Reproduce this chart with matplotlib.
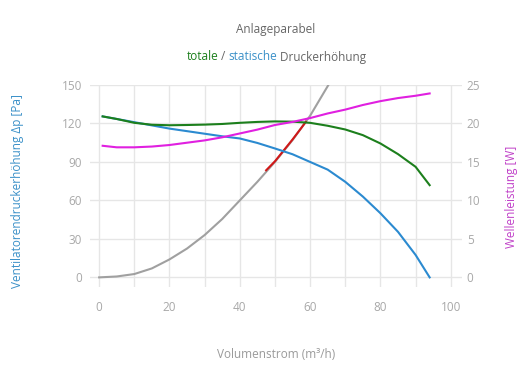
import matplotlib
matplotlib.use("Agg")
import matplotlib.pyplot as plt

# ---- data ----
x_fan = [1, 5, 10, 15, 20, 25, 30, 35, 40, 45, 50, 55, 60, 65, 70, 75, 80, 85, 90, 94]
static_pa = [125.5, 123.5, 121, 118.5, 116, 114, 112, 110, 108.3, 104.8, 100.5, 96, 90,
             84, 74.5, 63, 50, 35.5, 17.5, 0]
total_pa = [125.5, 123.5, 120.5, 119, 118.6, 118.8, 119.1, 119.6, 120.5, 121.2, 121.6,
            121.4, 120.5, 118.2, 115.3, 110.9, 104.4, 96.1, 86.2, 71.9]
power_w = [17.1, 16.9, 16.9, 17.0, 17.2, 17.5, 17.8, 18.2, 18.7, 19.2, 19.8, 20.2, 20.7,
           21.3, 21.8, 22.4, 22.9, 23.3, 23.6, 23.9]

x_sys = [0, 5, 10, 15, 20, 25, 30, 35, 40, 45, 50, 55, 60, 65.2]
sys_pa = [0, 0.7, 2.6, 7, 14, 22.5, 33, 45.5, 60, 74.5, 90, 107, 126, 150]

x_op = [47.5, 50, 52.5, 55, 57.5, 58.8]
op_pa = [83.5, 90.5, 99, 107.5, 116.5, 121.3]

x_ticks = [0, 20, 40, 60, 80, 100]
y_ticks = [0, 30, 60, 90, 120, 150]
y2_ticks = [0, 5, 10, 15, 20, 25]

title = "Anlageparabel"
xlabel = "Volumenstrom (m³/h)"
ylabel = "Ventilatorendruckerhöhung Δp [Pa]"
y2label = "Wellenleistung [W]"

# ---- style ----
FONT = "Open Sans"
FS = 8.5
plt.rcParams["font.family"] = [FONT, "DejaVu Sans"]
C_BLUE = "#2b8ad0"
C_GREEN = "#1c7f1c"
C_MAG = "#e020e0"
C_GRAY = "#a0a0a0"
C_RED = "#d01818"
C_TICK = "#a8a8a8"
C_GRID = "#e6e6e6"

fig = plt.figure(figsize=(5.3, 3.9), dpi=100)
ax = fig.add_axes([0.1698, 0.2641, 0.7019, 0.518])
ax2 = ax.twinx()

ax.set_xlim(-2.6, 103.2)
ax.set_ylim(-7.5, 150)
ax2.set_ylim(-7.5 / 6, 25)

ax.set_xticks(range(0, 101, 10), minor=False)
ax.set_xticklabels([str(v) if v in x_ticks else "" for v in range(0, 101, 10)])
ax.set_yticks(y_ticks)
ax2.set_yticks(y2_ticks)

ax.grid(True, color=C_GRID, lw=1.0)
ax.set_axisbelow(True)
for a in (ax, ax2):
    for s in a.spines.values():
        s.set_visible(False)
ax.tick_params(axis="both", length=0, labelsize=FS, labelcolor=C_TICK)
ax.tick_params(axis="y", pad=5.5)
ax.tick_params(axis="x", pad=10)
ax2.tick_params(axis="y", length=0, labelsize=FS, labelcolor=C_TICK, pad=3.5)

ax.plot(x_sys, sys_pa, color=C_GRAY, lw=1.5, zorder=2)
ax.plot(x_op, op_pa, color=C_RED, lw=1.5, zorder=3)
ax.plot(x_fan, static_pa, color=C_BLUE, lw=1.5, zorder=4)
ax.plot(x_fan, total_pa, color=C_GREEN, lw=1.5, zorder=5)
ax2.plot(x_fan, power_w, color=C_MAG, lw=1.5)

# axis labels
fig.text(18 / 530, 1 - 191 / 390, ylabel, rotation=90, ha="center", va="center",
         fontsize=FS, color="#3a90c8")
fig.text(512 / 530, 1 - 197 / 390, y2label, rotation=90, ha="center", va="center",
         fontsize=FS, color="#c040c8")
fig.text(276 / 530, 1 - 355 / 390, xlabel, ha="center", va="center",
         fontsize=FS, color="#9a9a9a")

# title
fig.text(276 / 530, 1 - 30 / 390, title, ha="center", va="center", fontsize=FS,
         color="#666666")

# multi-coloured subtitle
parts = [("totale", C_GREEN), (" / ", "#666666"), ("statische", "#3a90c8"),
         (" Druckerhöhung", "#666666")]
fig.canvas.draw()
renderer = fig.canvas.get_renderer()


def text_width(s):
    t = fig.text(0, 0, s + "|", fontsize=FS)
    w = t.get_window_extent(renderer).width
    t.remove()
    t = fig.text(0, 0, "|", fontsize=FS)
    w -= t.get_window_extent(renderer).width
    t.remove()
    return w


full = "".join(p for p, _ in parts)
total_w = text_width(full)
x0 = 276.5 - total_w / 2
prefix = ""
for s, c in parts:
    off = text_width(prefix) if prefix else 0.0
    fig.text((x0 + off) / 530, 1 - 57 / 390, s, ha="left", va="center",
             fontsize=FS, color=c)
    prefix += s

fig.savefig("out.png", dpi=100)
